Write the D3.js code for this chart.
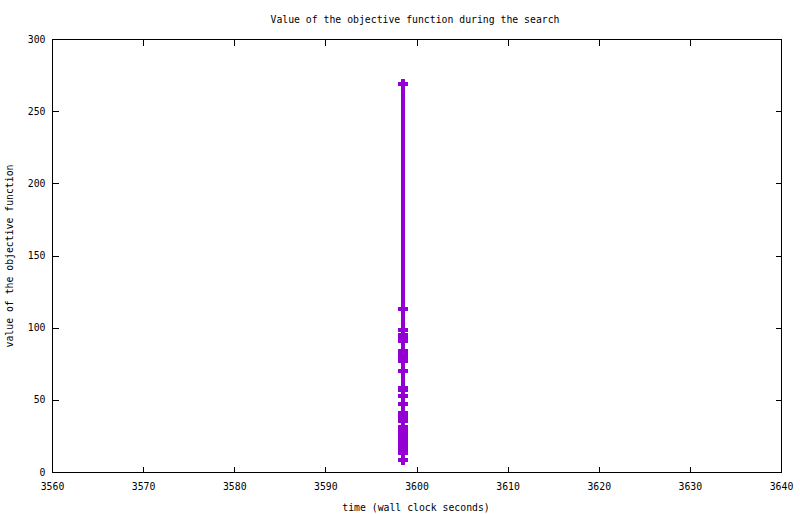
<!DOCTYPE html>
<html>
<head>
<meta charset="utf-8">
<script src="https://cdn.jsdelivr.net/npm/d3@7"></script>
<style>
  body { margin: 0; background: #fff; }
  text { font-family: "DejaVu Sans Mono", monospace; font-size: 9.8px; fill: #000; }
</style>
</head>
<body>
<svg width="800" height="514"></svg>
<script>
let WIDTH  = 800,
    HEIGHT = 514,
    LEFT   = 52.5,
    RIGHT  = 781.5,
    TOP    = 39.5,
    BOTTOM = 472.5,
    COLOR  = "#9400d3";

// ticks
let xTicks = [3560, 3570, 3580, 3590, 3600, 3610, 3620, 3630, 3640];
let yTicks = [0, 50, 100, 150, 200, 250, 300];

// search samples: wall clock time and objective value
let times     = [3598.5, 3598.5, 3598.5, 3598.5, 3598.5, 3598.5, 3598.5, 3598.5,
                 3598.5, 3598.5, 3598.5, 3598.5, 3598.5, 3598.5, 3598.5, 3598.5,
                 3598.5, 3598.5, 3598.5, 3598.5, 3598.5, 3598.5, 3598.5, 3598.5,
                 3598.5, 3598.5, 3598.5, 3598.5, 3598.5, 3598.5, 3598.5];
let objective = [269, 113, 99, 95, 93, 91, 84, 82, 80, 78, 77, 70, 58.5, 57, 53, 47.5,
                 41, 39, 37, 36, 31.5, 29.5, 27.5, 25.5, 23.5, 21.5, 19.5, 17.5, 15.5, 13.5, 9];

let points = times.map(function (t, i) { return {t: t, v: objective[i]}; });

let svg = d3.select("svg").attr("width", WIDTH).attr("height", HEIGHT);

let x = d3.scaleLinear().domain([3560, 3640]).range([LEFT, RIGHT]);
let y = d3.scaleLinear().domain([0, 300]).range([BOTTOM, TOP]);

// axes, ticks pointing inward and mirrored on top / right
function styleAxis(g) {
    g.select(".domain").remove();
    g.selectAll("line").attr("stroke", "#000").attr("shape-rendering", "crispEdges");
    g.selectAll("text").attr("font-family", null).attr("font-size", null);
}

svg.append("g")
   .attr("transform", "translate(0," + BOTTOM + ")")
   .call(d3.axisBottom(x).tickValues(xTicks).offset(0).tickSize(-6).tickPadding(11).tickFormat(d3.format("d")))
   .call(styleAxis);

svg.append("g")
   .attr("transform", "translate(0," + TOP + ")")
   .call(d3.axisTop(x).tickValues(xTicks).offset(0).tickSize(-6).tickFormat(""))
   .call(styleAxis);

svg.append("g")
   .attr("transform", "translate(" + LEFT + ",0)")
   .call(d3.axisLeft(y).tickValues(yTicks).offset(0).tickSize(-6).tickPadding(7).tickFormat(d3.format("d")))
   .call(styleAxis);

svg.append("g")
   .attr("transform", "translate(" + RIGHT + ",0)")
   .call(d3.axisRight(y).tickValues(yTicks).offset(0).tickSize(-6).tickFormat(""))
   .call(styleAxis);

// border
svg.append("rect")
   .attr("x", LEFT).attr("y", TOP)
   .attr("width", RIGHT - LEFT).attr("height", BOTTOM - TOP)
   .attr("fill", "none").attr("stroke", "#000")
   .attr("shape-rendering", "crispEdges");

// line
let line = d3.line()
             .x(function (d) { return x(d.t); })
             .y(function (d) { return y(d.v); });

svg.append("path")
   .datum(points)
   .attr("d", line)
   .attr("fill", "none")
   .attr("stroke", COLOR)
   .attr("stroke-width", 4)
   .attr("shape-rendering", "crispEdges");

// "+" markers
svg.append("g")
   .selectAll("path")
   .data(points)
   .enter()
   .append("path")
   .attr("transform", function (d) { return "translate(" + x(d.t) + "," + y(d.v) + ")"; })
   .attr("d", "M-5,0H5M0,-5V5")
   .attr("fill", "none")
   .attr("stroke", COLOR)
   .attr("stroke-width", 4)
   .attr("shape-rendering", "crispEdges");

// titles
svg.append("text")
   .attr("x", 415).attr("y", 23)
   .attr("text-anchor", "middle")
   .text("Value of the objective function during the search");

svg.append("text")
   .attr("x", 416).attr("y", 511)
   .attr("text-anchor", "middle")
   .text("time (wall clock seconds)");

svg.append("text")
   .attr("transform", "translate(13,256) rotate(-90)")
   .attr("text-anchor", "middle")
   .text("value of the objective function");
</script>
</body>
</html>
